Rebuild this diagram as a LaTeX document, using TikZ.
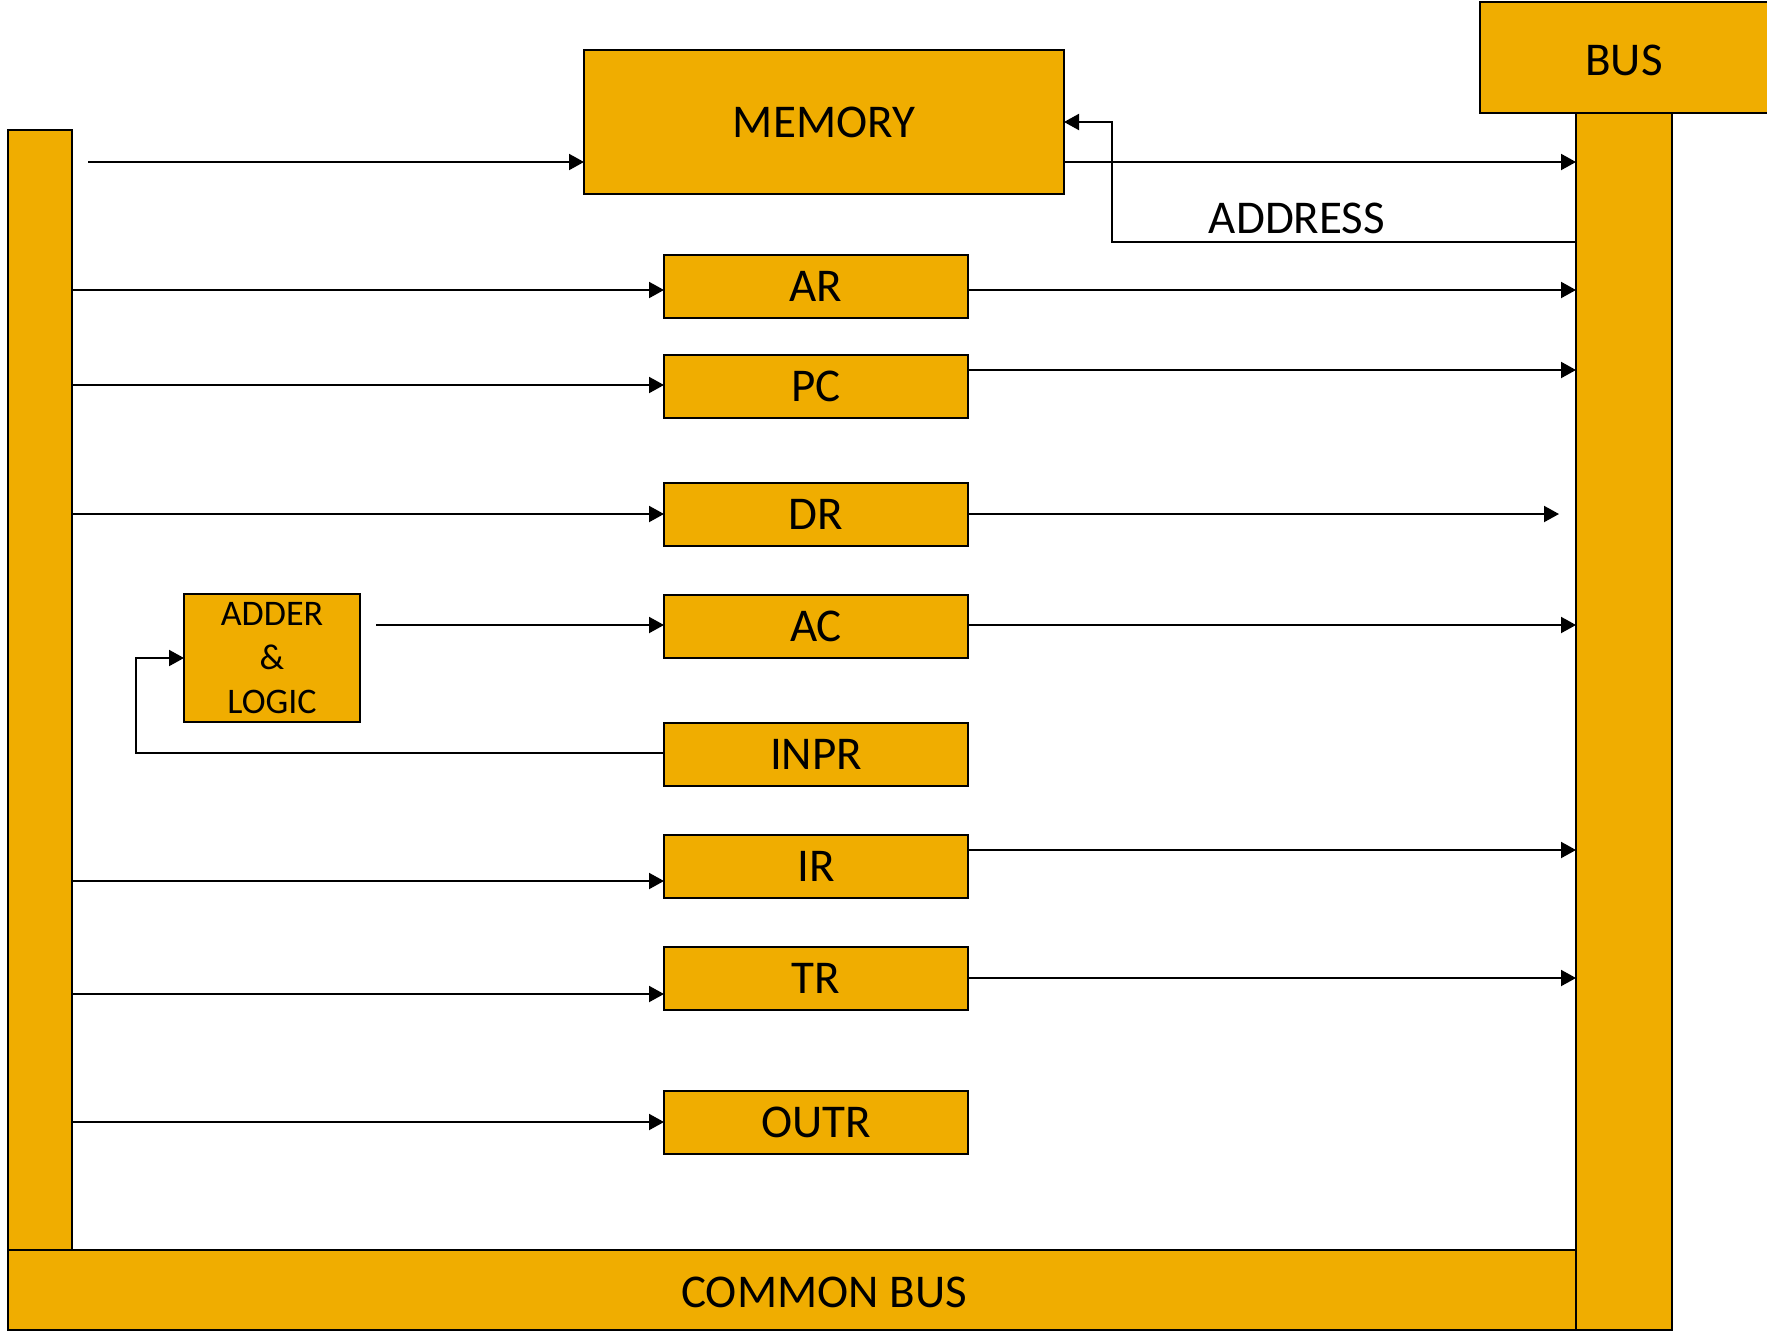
\documentclass[tikz,border=0pt]{standalone}
\usepackage{fontspec}
\setmainfont{Carlito}
\usetikzlibrary{arrows.meta}
\definecolor{busorange}{RGB}{240,173,0}
\begin{document}
\begin{tikzpicture}[x=0.5pt,y=-0.5pt,
  blk/.style={draw=black, line width=1pt, fill=busorange, inner sep=0pt, outer sep=0pt, font=\fontsize{23.5}{28}\selectfont},
  reg/.style={blk, minimum width=152pt, minimum height=31.5pt},
  lbl/.style={inner sep=0pt, font=\fontsize{23.5}{28}\selectfont},
  arr/.style={line width=1pt, -{Triangle[length=7.5pt,width=8pt]}},
  ln/.style={line width=1pt}]
\useasboundingbox (0,0) rectangle (1767,1333);
% bars
\node[blk, minimum width=32pt, minimum height=560pt] (lbar) at (40,690) {};
\node[blk, minimum width=784pt, minimum height=40pt] (cbus) at (792,1290) {};
\node[lbl] (cbuslbl) at (824,1292) {COMMON BUS};
\node[blk, line width=0.8pt, minimum width=48pt, minimum height=608.5pt] (rbar) at (1624,721.5) {};
\node[blk, minimum width=146pt, minimum height=55.5pt] (bus) at (1626,57.5) {};
\node[lbl] (buslbl) at (1624,60) {BUS};
% memory and registers
\node[blk, minimum width=240pt, minimum height=72pt] (mem) at (824,122) {MEMORY};
\node[reg] (ar) at (816,286.5) {AR};
\node[reg] (pc) at (816,386) {PC};
\node[reg] (dr) at (816,514.5) {DR};
\node[reg] (ac) at (816,626) {AC};
\node[reg] (inpr) at (816,754) {INPR};
\node[reg] (ir) at (816,866) {IR};
\node[reg] (tr) at (816,978.5) {TR};
\node[reg] (outr) at (816,1122) {OUTR};
\node[blk, minimum width=88pt, minimum height=64pt, align=center,
      font=\fontsize{18}{22}\selectfont] (alu) at (272,658) {ADDER\\\&\\LOGIC};
\node[lbl, anchor=base] (addr) at (1297,233) {ADDRESS};
% coordinates
\coordinate (m0) at (88,162);
\coordinate (a0) at (376,625);
\coordinate (drend) at (1559,514);
% memory connectors
\draw[arr] (m0) -- (m0 -| mem.west);
\draw[arr] (mem.east |- m0) -- (rbar.west |- m0);
\draw[arr] (rbar.west |- 0,290) -- (1576,242) -- (1112,242) -- (1112,122) -- (mem.east);
% AR
\draw[arr] (lbar.east |- 0,290) -- (ar.west |- 0,290);
\draw[arr] (ar.east |- 0,290) -- (rbar.west |- 0,290);
% PC
\draw[arr] (lbar.east |- 0,385) -- (pc.west |- 0,385);
\draw[arr] (pc.east |- 0,370) -- (rbar.west |- 0,370);
% DR
\draw[arr] (lbar.east |- 0,514) -- (dr.west |- 0,514);
\draw[arr] (dr.east |- drend) -- (drend);
% AC
\draw[arr] (a0) -- (a0 -| ac.west);
\draw[arr] (ac.east |- a0) -- (rbar.west |- a0);
% INPR
\draw[arr] (inpr.west |- 0,753) -- (136,753) -- (136,658) -- (alu.west);
% IR
\draw[arr] (lbar.east |- 0,881) -- (ir.west |- 0,881);
\draw[arr] (ir.east |- 0,850) -- (rbar.west |- 0,850);
% TR
\draw[arr] (lbar.east |- 0,994) -- (tr.west |- 0,994);
\draw[arr] (tr.east |- 0,978) -- (rbar.west |- 0,978);
% OUTR
\draw[arr] (lbar.east |- 0,1122) -- (outr.west |- 0,1122);
\end{tikzpicture}
\end{document}
